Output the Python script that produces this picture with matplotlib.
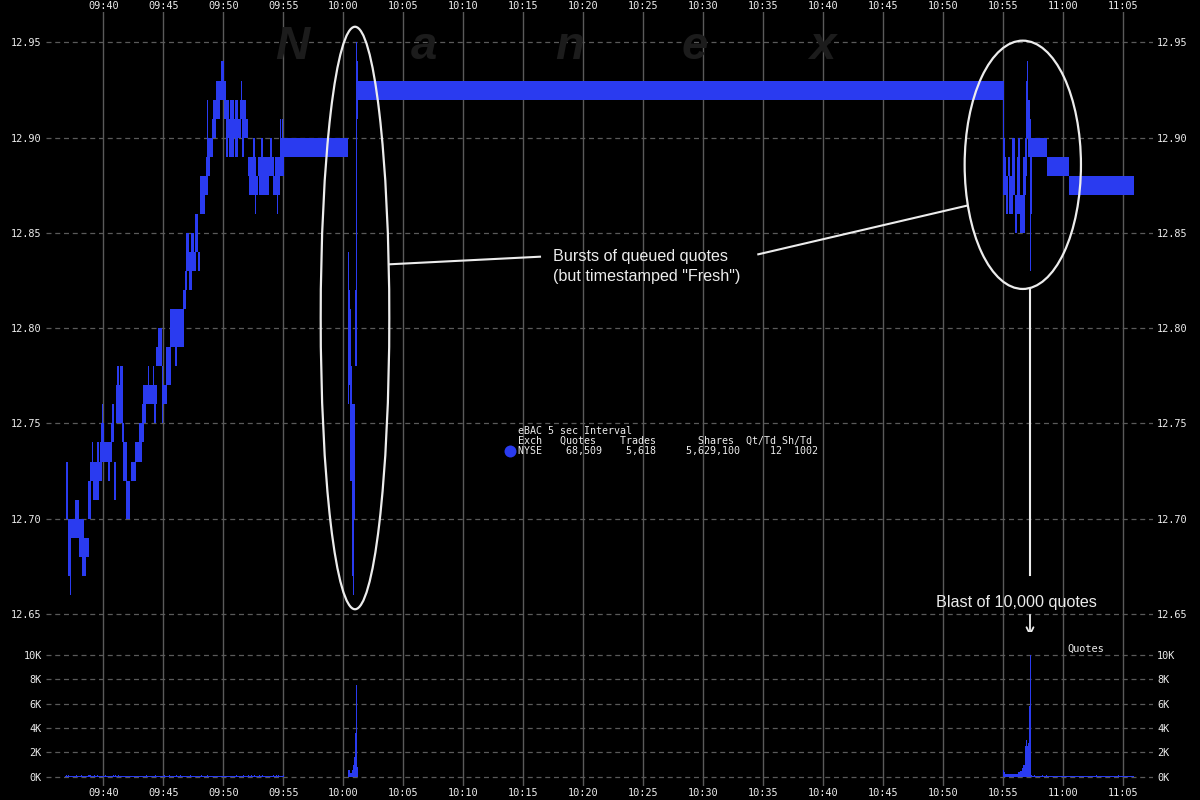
import matplotlib
matplotlib.use("Agg")
import matplotlib.pyplot as plt
from matplotlib.patches import Ellipse

# ---------------- data ----------------
# price bars (5-sec intervals, low/high range)
p_start = ["09:36:55","09:37:05","09:37:15","09:37:05","09:37:40","09:38:00","09:38:15","09:38:45",
           "09:38:55","09:39:05","09:39:10","09:39:25","09:39:30","09:39:45","09:39:50","09:39:55",
           "09:40:10","09:40:25","09:40:40","09:40:45","09:40:55","09:41:05","09:41:10","09:41:25",
           "09:41:35","09:41:40","09:41:55","09:42:20","09:42:40","09:43:00","09:43:15","09:43:20",
           "09:43:45","09:44:10","09:44:15","09:44:25","09:44:35","09:44:55","09:44:55","09:45:15",
           "09:45:35","09:46:00","09:46:40","09:46:50","09:46:55","09:46:55","09:47:20","09:47:10",
           "09:47:40","09:47:55","09:48:05","09:48:05","09:48:15","09:48:35","09:48:40","09:48:40",
           "09:49:05","09:49:10","09:49:25","09:49:50","09:50:05","09:50:15","09:50:15","09:50:30",
           "09:50:35","09:51:00","09:51:00","09:51:25","09:51:30","09:51:35","09:51:35","09:52:05",
           "09:52:10","09:52:30","09:52:40","09:52:55","09:53:00","09:53:10","09:53:55","09:54:10",
           "09:54:30","09:54:20","09:54:45","09:54:45","09:54:55","09:54:45",
           "10:00:25","10:00:30","10:00:35","10:00:40","10:00:45","10:00:50","10:00:55","10:01:00",
           "10:01:05","10:01:10","10:01:15",
           "10:55:00","10:55:00","10:55:10","10:55:15","10:55:25","10:55:30","10:55:45","10:56:00",
           "10:56:10","10:56:15","10:56:25","10:56:40","10:56:50","10:56:55","10:57:00","10:57:05",
           "10:57:15","10:57:20","10:57:05","10:58:40","11:00:30"]
p_end = ["09:37:05","09:37:20","09:37:20","09:38:25","09:38:00","09:38:50","09:38:35","09:39:00",
         "09:39:25","09:39:10","09:39:40","09:39:55","09:39:40","09:40:10","09:40:05","09:40:00",
         "09:40:45","09:40:35","09:40:55","09:40:55","09:41:05","09:41:40","09:41:20","09:41:40",
         "09:41:45","09:42:00","09:42:15","09:42:45","09:43:15","09:43:25","09:43:35","09:44:30",
         "09:43:50","09:44:15","09:44:25","09:44:40","09:44:55","09:45:20","09:45:00","09:45:40",
         "09:46:45","09:46:10","09:46:55","09:47:00","09:47:45","09:47:10","09:47:35","09:47:25",
         "09:47:55","09:48:05","09:48:30","09:48:15","09:48:45","09:48:55","09:49:10","09:48:45",
         "09:49:25","09:49:45","09:50:15","09:50:05","09:50:30","09:51:30","09:50:25","09:50:55",
         "09:50:55","09:51:15","09:51:15","09:51:55","09:51:35","09:52:05","09:51:45","09:52:45",
         "09:52:55","09:52:40","09:52:45","09:54:15","09:53:50","09:53:20","09:54:05","09:54:45",
         "09:54:35","09:54:50","09:55:05","09:54:50","09:55:00","10:00:25",
         "10:00:30","10:00:35","10:00:40","10:00:45","10:00:50","10:00:55","10:01:00","10:01:05",
         "10:01:10","10:01:15","10:55:00",
         "10:55:05","10:55:10","10:55:15","10:55:25","10:55:35","10:55:50","10:56:00","10:56:10",
         "10:56:25","10:56:25","10:56:50","10:56:55","10:57:00","10:57:05","10:57:05","10:57:15",
         "10:57:20","10:57:25","10:58:40","11:00:30","11:05:55"]
p_lo = [12.70,12.67,12.66,12.69,12.70,12.68,12.67,12.70,12.72,12.73,12.71,12.72,12.73,12.73,12.74,12.75,
        12.73,12.72,12.74,12.75,12.71,12.75,12.77,12.77,12.74,12.72,12.70,12.72,12.73,12.74,12.75,12.76,
        12.77,12.77,12.75,12.78,12.78,12.76,12.75,12.77,12.79,12.78,12.81,12.82,12.83,12.84,12.84,12.82,
        12.84,12.83,12.86,12.87,12.87,12.88,12.89,12.90,12.90,12.91,12.92,12.93,12.91,12.90,12.89,12.89,
        12.91,12.91,12.89,12.91,12.92,12.90,12.89,12.88,12.87,12.89,12.86,12.88,12.87,12.89,12.89,12.87,
        12.86,12.88,12.88,12.90,12.90,12.89,
        12.76,12.77,12.72,12.72,12.67,12.66,12.70,12.78,12.78,12.91,12.92,
        12.87,12.87,12.87,12.86,12.88,12.86,12.87,12.85,12.86,12.88,12.85,12.87,12.88,12.90,12.93,12.89,
        12.83,12.86,12.89,12.88,12.87]
p_hi = [12.73,12.70,12.67,12.70,12.71,12.69,12.68,12.72,12.73,12.74,12.72,12.73,12.74,12.74,12.75,12.76,
        12.74,12.73,12.75,12.76,12.73,12.77,12.78,12.78,12.75,12.74,12.72,12.73,12.74,12.75,12.76,12.77,
        12.78,12.78,12.76,12.79,12.80,12.77,12.78,12.79,12.81,12.79,12.82,12.83,12.84,12.85,12.85,12.83,
        12.86,12.84,12.87,12.88,12.88,12.89,12.90,12.92,12.91,12.92,12.93,12.94,12.92,12.91,12.90,12.90,
        12.92,12.92,12.90,12.92,12.93,12.91,12.90,12.89,12.88,12.90,12.87,12.89,12.88,12.90,12.90,12.88,
        12.87,12.89,12.90,12.91,12.91,12.90,
        12.84,12.82,12.81,12.78,12.76,12.76,12.76,12.82,12.95,12.94,12.93,
        12.93,12.90,12.89,12.88,12.89,12.88,12.90,12.87,12.89,12.90,12.87,12.89,12.90,12.93,12.94,12.92,
        12.91,12.90,12.90,12.89,12.88]

# quote counts per interval
q_start = ["09:36:50","09:36:55","09:37:05","09:37:45","09:38:10","09:38:45","09:38:50","09:39:15",
           "09:39:30","09:40:10","09:40:50","09:41:00","09:41:15","09:43:35","09:44:20","09:45:05",
           "09:45:30","09:46:05","09:46:25","09:47:15","09:48:10","09:48:40","09:51:05","09:51:40",
           "09:52:05","09:52:20","09:52:35","09:53:00","09:53:15","09:54:10","09:54:25","09:54:35",
           "09:55:00",
           "10:00:25","10:00:30","10:00:35","10:00:40","10:00:45","10:00:50","10:00:55","10:01:00",
           "10:01:05","10:01:10",
           "10:55:00","10:55:05","10:55:10","10:55:50","10:56:15","10:56:25","10:56:35","10:56:40",
           "10:56:50","10:56:55","10:57:00","10:57:05","10:57:10","10:57:15","10:57:20","10:57:25",
           "10:57:35","10:58:15","10:58:35","11:02:45","11:04:35"]
q_end = ["09:55:05","09:37:00","09:37:10","09:37:50","09:38:15","09:38:50","09:39:00","09:39:20",
         "09:39:35","09:40:15","09:40:55","09:41:05","09:41:20","09:43:40","09:44:25","09:45:10",
         "09:45:35","09:46:10","09:46:30","09:47:20","09:48:15","09:48:45","09:51:10","09:51:45",
         "09:52:10","09:52:25","09:52:40","09:53:05","09:53:20","09:54:15","09:54:30","09:54:40",
         "09:55:05",
         "10:00:30","10:00:35","10:00:40","10:00:45","10:00:50","10:00:55","10:01:00","10:01:05",
         "10:01:10","10:01:15",
         "10:55:05","10:55:10","10:55:50","10:56:15","10:56:25","10:56:35","10:56:40","10:56:50",
         "10:56:55","10:57:00","10:57:05","10:57:10","10:57:15","10:57:20","10:57:25","11:05:55",
         "10:57:40","10:58:20","10:58:40","11:02:50","11:04:40"]
q_val = [80,150,120,110,110,160,150,110,120,130,120,110,120,110,150,170,
         130,120,110,110,130,120,130,110,120,110,120,110,120,110,120,110,
         130,
         550,550,270,270,550,960,1640,3550,7500,800,
         550,380,200,250,380,500,740,1000,2500,3000,2500,2800,5800,10000,140,80,
         140,160,130,120,120]

x_ticks = ["09:40","09:45","09:50","09:55","10:00","10:05","10:10","10:15","10:20","10:25",
           "10:30","10:35","10:40","10:45","10:50","10:55","11:00","11:05"]
price_ticks = [12.65, 12.70, 12.75, 12.80, 12.85, 12.90, 12.95]
quote_ticks = [0, 2000, 4000, 6000, 8000, 10000]
quote_tick_labels = ["0K", "2K", "4K", "6K", "8K", "10K"]

legend_lines = ["eBAC 5 sec Interval",
                "Exch   Quotes    Trades       Shares  Qt/Td Sh/Td",
                "NYSE    68,509    5,618     5,629,100     12  1002"]

# ---------------- helpers ----------------
def tmin(s):
    parts = [int(v) for v in s.split(":")]
    sec = parts[2] if len(parts) > 2 else 0
    return parts[0] * 60 + parts[1] + sec / 60.0

W, H = 1200, 800
BLUE = "#2a3bf0"
TXT = "#ececec"
GRID = "#5a5a5a"
MONO = "DejaVu Sans Mono"

fig = plt.figure(figsize=(12, 8), dpi=100, facecolor="black")

def px_axes(l, t, r, b):
    return fig.add_axes([l / W, 1 - b / H, (r - l) / W, (b - t) / H])

ax_p = px_axes(46, 12, 1153, 632)
ax_q = px_axes(46, 632, 1153, 786)

XMIN, XMAX = 575.225, 667.475
for ax in (ax_p, ax_q):
    ax.set_facecolor("black")
    ax.set_xlim(XMIN, XMAX)
    for sp in ax.spines.values():
        sp.set_visible(False)
    ax.set_xticks([tmin(t) for t in x_ticks])
    ax.xaxis.grid(True, color=GRID, linestyle="-", linewidth=1.0)
    ax.yaxis.grid(True, color=GRID, linestyle=(0, (4, 3)), linewidth=0.9)
    ax.set_axisbelow(True)
    ax.tick_params(axis="both", length=0, colors=TXT, labelsize=7.4)
    ax.tick_params(axis="y", left=True, right=True, labelleft=True, labelright=True, pad=3.0)

ax_p.set_ylim(12.6405, 12.96596)
ax_p.set_yticks(price_ticks)
ax_p.set_yticklabels([f"{v:.2f}" for v in price_ticks], family=MONO)
ax_p.xaxis.tick_top()
ax_p.tick_params(axis="x", top=True, bottom=False, labeltop=True, labelbottom=False, pad=0.6)
ax_p.set_xticklabels(x_ticks, family=MONO)

ax_q.set_ylim(-762, 11861)
ax_q.set_yticks(quote_ticks)
ax_q.set_yticklabels(quote_tick_labels, family=MONO)
ax_q.tick_params(axis="x", pad=1.4)
ax_q.set_xticklabels(x_ticks, family=MONO)

# watermark
for ch, xc in zip(["N", "a", "n", "e", "x"], [292, 424, 570, 695, 822]):
    fig.text(xc / W, 1 - 59 / H, ch, ha="center", va="baseline", fontsize=34,
             style="italic", weight="bold", family="Liberation Sans", color="#1c1c1c", zorder=0)

# price bars
ps = [tmin(s) for s in p_start]
pw = [tmin(e) - tmin(s) for s, e in zip(p_start, p_end)]
ax_p.bar(ps, [h - l for h, l in zip(p_hi, p_lo)], width=pw, bottom=p_lo,
         align="edge", color=BLUE, linewidth=0, zorder=3)

# quote bars
qs = [tmin(s) for s in q_start]
qw = [tmin(e) - tmin(s) for s, e in zip(q_start, q_end)]
ax_q.bar(qs, q_val, width=qw, align="edge", color=BLUE, linewidth=0, zorder=3)

# ---------------- annotations ----------------
def py(y):  # pixel row -> price
    return 12.95 - (y - 42.4) / 1905.0

def px(x):  # pixel column -> minutes
    return 580 + (x - 103.3) / 12.0

WHITE = "#ececec"
ax_p.add_patch(Ellipse((px(355), py(318)), 68.6 / 12, 582.5 / 1905, fill=False,
                       edgecolor=WHITE, linewidth=1.6, clip_on=False, zorder=5))
ax_p.add_patch(Ellipse((px(1022.8), py(164.8)), 116.3 / 12, 248.3 / 1905, fill=False,
                       edgecolor=WHITE, linewidth=1.6, clip_on=False, zorder=5))
ax_p.plot([px(389.3), px(540)], [py(264.3), py(256.7)], color=WHITE, lw=1.5, zorder=5)
ax_p.plot([px(758.3), px(966.7)], [py(254.3), py(205.7)], color=WHITE, lw=1.5, zorder=5)
ax_p.plot([px(1030), px(1030)], [py(289), py(575)], color=WHITE, lw=1.5, zorder=5)

ax_p.text(px(552.7), py(260.7), "Bursts of queued quotes", color=WHITE, fontsize=11.6,
          family="Liberation Sans", ha="left", va="baseline", zorder=6)
ax_p.text(px(552.7), py(280.7), "(but timestamped \"Fresh\")", color=WHITE, fontsize=11.6,
          family="Liberation Sans", ha="left", va="baseline", zorder=6)
ax_p.text(px(936), py(607.3), "Blast of 10,000 quotes", color=WHITE, fontsize=11.6,
          family="Liberation Sans", ha="left", va="baseline", zorder=6)
ax_p.annotate("", xy=(px(1030), py(639)), xytext=(px(1030), py(612)),
              arrowprops=dict(arrowstyle="->,head_length=0.5,head_width=0.25",
                              color=WHITE, lw=1.3),
              annotation_clip=False, zorder=6)

fig.text(1067.7 / W, 1 - 651.7 / H, "Quotes", family=MONO, fontsize=7.4,
         color=TXT, ha="left", va="baseline")

# legend block
for i, line in enumerate(legend_lines):
    fig.text(517.7 / W, 1 - (434 + 10 * i) / H, line, family=MONO, fontsize=7.2,
             color=TXT, ha="left", va="baseline")
ax_p.plot([px(510)], [py(451)], marker="o", markersize=8.6, color=BLUE,
          markeredgewidth=0, clip_on=False, zorder=6)

fig.savefig("out.png", dpi=100, facecolor="black")
